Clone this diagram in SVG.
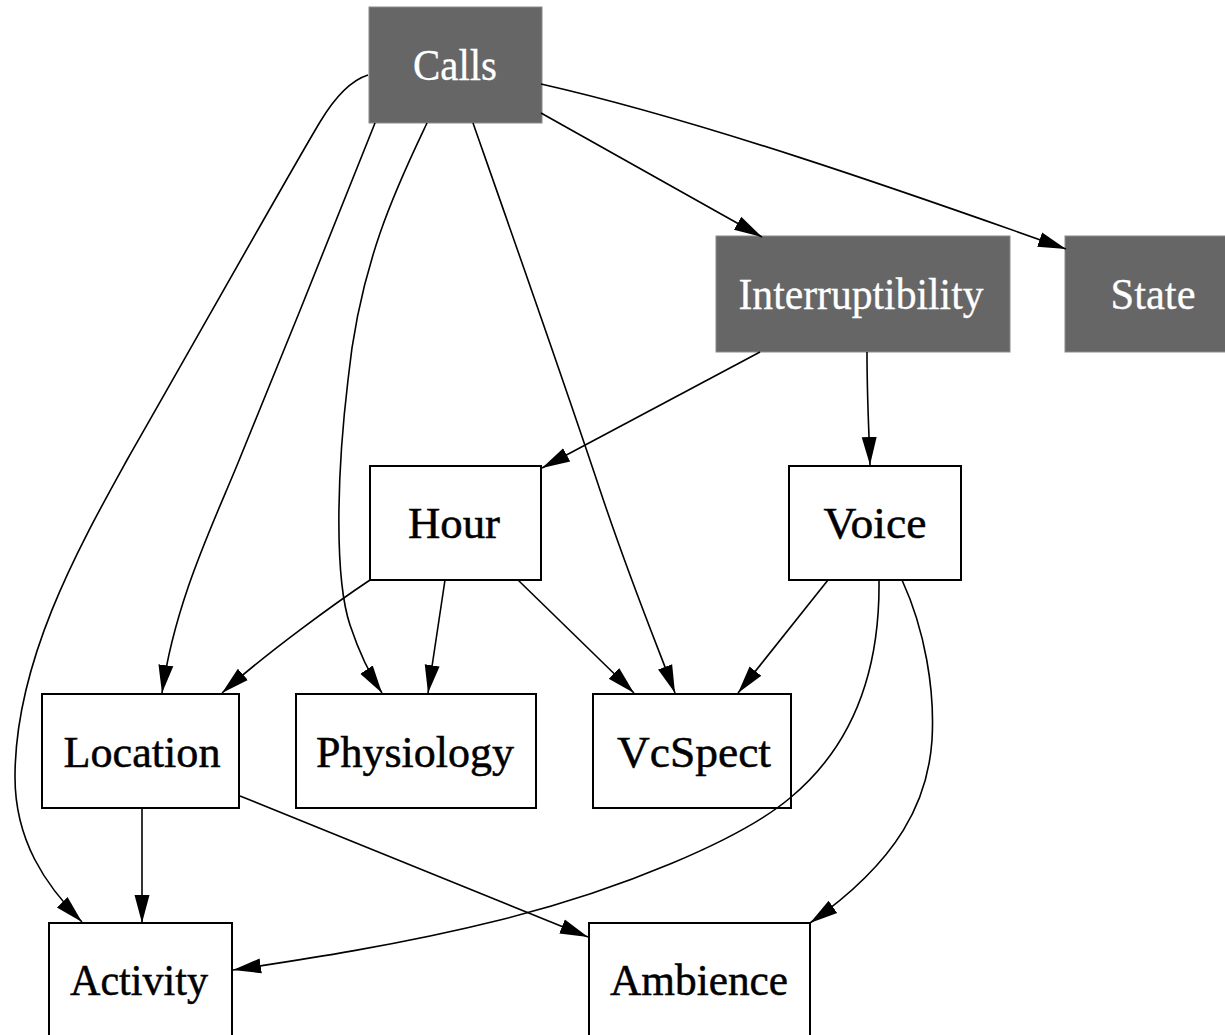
<svg xmlns="http://www.w3.org/2000/svg" width="1225" height="1035" viewBox="0 0 1225 1035">
<style>
.box{fill:#ffffff;stroke:#000;stroke-width:2}
.dark{fill:#666666;stroke:#8a8a8a;stroke-width:1}
.lbl{font-family:"Liberation Serif","Times New Roman",serif;font-size:44px;text-anchor:middle;fill:#000;stroke:#000;stroke-width:0.5}
.wl{fill:#ffffff;stroke:#ffffff;stroke-width:0.3}
.e{fill:none;stroke:#000;stroke-width:1.6;marker-end:url(#ah)}
</style>
<defs>
<marker id="ah" markerUnits="userSpaceOnUse" markerWidth="30" markerHeight="20" refX="28" refY="9" orient="auto">
<path d="M0,1.5 L28,9 L0,16.5 z" fill="#000"/>
</marker>
</defs>
<rect width="1225" height="1035" fill="#fff"/>
<g id="calls">
<rect class="dark" x="369" y="7" width="173" height="116"/>
<text class="lbl wl" x="455" y="80" textLength="84" lengthAdjust="spacingAndGlyphs">Calls</text>
</g>
<g id="interruptibility">
<rect class="dark" x="716" y="236" width="294" height="116"/>
<text class="lbl wl" x="861" y="309" textLength="245" lengthAdjust="spacingAndGlyphs">Interruptibility</text>
</g>
<g id="state">
<rect class="dark" x="1065" y="236" width="176" height="116"/>
<text class="lbl wl" x="1153" y="309" textLength="85" lengthAdjust="spacingAndGlyphs">State</text>
</g>
<g id="hour">
<rect class="box" x="370" y="466" width="171" height="114"/>
<text class="lbl" x="454" y="538" textLength="92" lengthAdjust="spacingAndGlyphs">Hour</text>
</g>
<g id="voice">
<rect class="box" x="789" y="466" width="172" height="114"/>
<text class="lbl" x="875" y="538" textLength="103" lengthAdjust="spacingAndGlyphs">Voice</text>
</g>
<g id="location">
<rect class="box" x="42" y="694" width="197" height="114"/>
<text class="lbl" x="142" y="767" textLength="157" lengthAdjust="spacingAndGlyphs">Location</text>
</g>
<g id="physiology">
<rect class="box" x="296" y="694" width="240" height="114"/>
<text class="lbl" x="415" y="767" textLength="198" lengthAdjust="spacingAndGlyphs">Physiology</text>
</g>
<g id="vcspect">
<rect class="box" x="593" y="694" width="198" height="114"/>
<text class="lbl" x="694" y="767" textLength="154" lengthAdjust="spacingAndGlyphs">VcSpect</text>
</g>
<g id="activity">
<rect class="box" x="49" y="923" width="183" height="130"/>
<text class="lbl" x="139" y="995" textLength="138" lengthAdjust="spacingAndGlyphs">Activity</text>
</g>
<g id="ambience">
<rect class="box" x="589" y="923" width="221" height="130"/>
<text class="lbl" x="699" y="995" textLength="178" lengthAdjust="spacingAndGlyphs">Ambience</text>
</g>
<g id="connectors">
<path class="e" d="M368,75 C352,80 335,97 320,122 C290,172 190,350 127,460 C80,545 15,660 15,777 C15,840 45,885 82,922"/>
<path class="e" d="M375,123 C345,200 280,360 240,458 C215,520 175,600 162,693"/>
<path class="e" d="M427,123 C400,180 360,260 348,380 C336,480 335,580 350,625 C360,655 370,675 382,693"/>
<path class="e" d="M473,123 C500,200 560,370 600,490 C630,580 655,640 675,693"/>
<path class="e" d="M541,113 L762,237"/>
<path class="e" d="M541,84 C700,120 900,190 1066,249"/>
<path class="e" d="M760,352 L542,468"/>
<path class="e" d="M867,352 C867,400 869,430 870,465"/>
<path class="e" d="M370,580 C340,600 270,650 222,693"/>
<path class="e" d="M445,580 L428,693"/>
<path class="e" d="M518,580 L634,693"/>
<path class="e" d="M828,580 L738,693"/>
<path class="e" d="M879,580 C880,660 860,740 790,798 C740,840 620,890 500,920 C400,945 300,960 233,970"/>
<path class="e" d="M902,580 C925,630 935,690 932,740 C928,800 900,860 810,923"/>
<path class="e" d="M142,809 L142,923"/>
<path class="e" d="M240,796 L588,937"/>
</g>
</svg>
